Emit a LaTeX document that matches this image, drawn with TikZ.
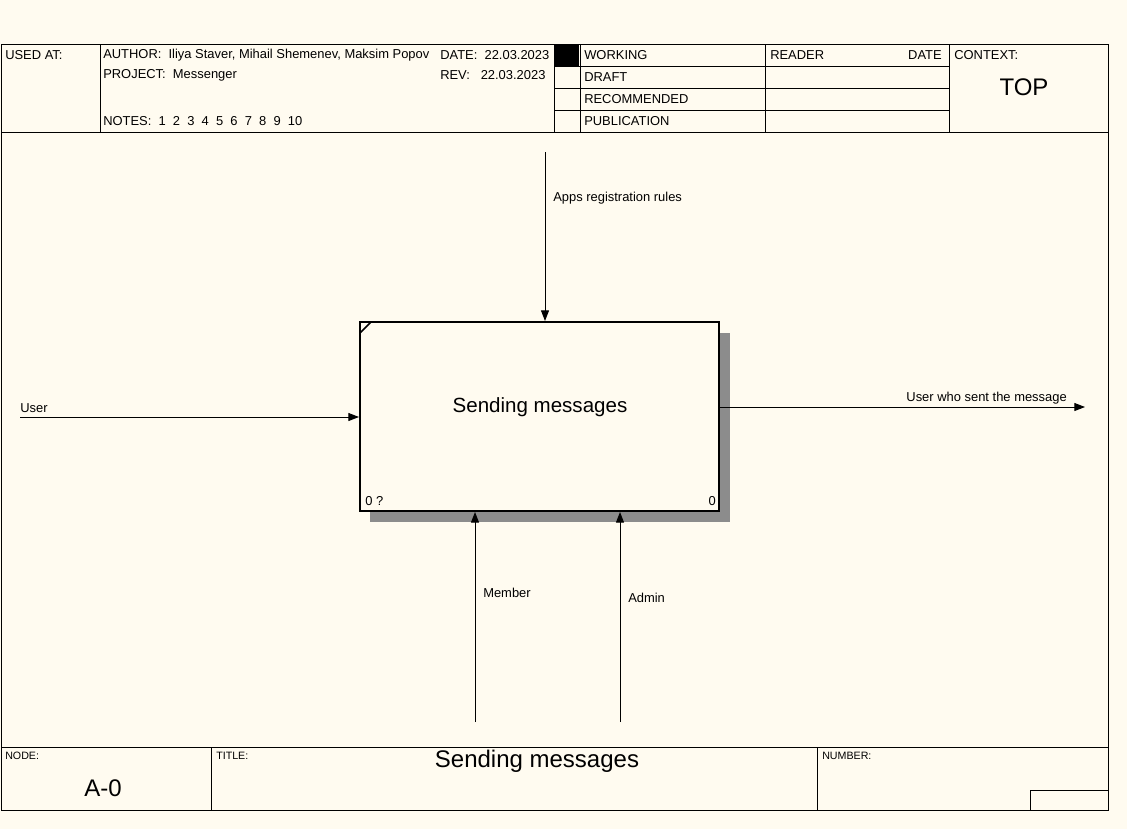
\documentclass[tikz,border=0pt]{standalone}
\usepackage{fontspec}
\setmainfont{Liberation Sans}
\usepackage{tikz}
\usetikzlibrary{arrows.meta,positioning}
\definecolor{paper}{RGB}{255,251,240}

\begin{document}
\begin{tikzpicture}[x=0.75pt, y=-0.75pt,
    frame/.style={draw, line width=0.75pt},
    lbl/.style={inner sep=0pt, anchor=west, font=\fontsize{9.7}{11}\selectfont},
    small/.style={inner sep=0pt, anchor=west, font=\fontsize{8}{9}\selectfont},
    big/.style={inner sep=0pt, font=\fontsize{15.4}{17}\selectfont},
    huge/.style={inner sep=0pt, font=\fontsize{18}{20}\selectfont},
    flow/.style={line width=0.75pt, -{Triangle[length=8pt, width=6pt]}}]
    \useasboundingbox (0,0) rectangle (1127,829);
    \fill[paper] (0,0) rectangle (1127,829);

    % frame, header and footer
    \draw[frame] (1,44) rectangle (1108,810);
    \draw[frame] (1,132) -- (1108,132);
    \draw[frame] (1,747) -- (1108,747);
    \draw[frame] (100,44) -- (100,132);
    \draw[frame] (554,44) -- (554,132);
    \draw[frame] (580,44) -- (580,132);
    \draw[frame] (765,44) -- (765,132);
    \draw[frame] (949,44) -- (949,132);
    \draw[frame] (554,66) -- (949,66);
    \draw[frame] (554,88) -- (949,88);
    \draw[frame] (554,110) -- (949,110);
    \fill (555,45) rectangle (579,66);
    \draw[frame] (211,747) -- (211,810);
    \draw[frame] (817,747) -- (817,810);
    \draw[frame] (1030,810) -- (1030,790) -- (1108,790);

    \node[lbl] (usedat) at (5,55) {USED AT:};
    \node[lbl] (author) at (103,55) {AUTHOR:\ \ Iliya Staver, Mihail Shemenev, Maksim Popov};
    \node[lbl] (date) at (440,55) {DATE:\ \ 22.03.2023};
    \node[lbl] (project) at (103,75) {PROJECT:\ \ Messenger};
    \node[lbl] (rev) at (440,75) {REV:\ \ \ 22.03.2023};
    \node[lbl] (notes) at (103,121) {NOTES:\ \ 1\ \ 2\ \ 3\ \ 4\ \ 5\ \ 6\ \ 7\ \ 8\ \ 9\ \ 10};
    \node[lbl] (working) at (584,55) {WORKING};
    \node[lbl] (draft) at (584,77) {DRAFT};
    \node[lbl] (recommended) at (584,99) {RECOMMENDED};
    \node[lbl] (publication) at (584,121) {PUBLICATION};
    \node[lbl] (reader) at (770,55) {READER};
    \node[lbl, anchor=east] (readerdate) at (942,55) {DATE};
    \node[lbl] (context) at (954,55) {CONTEXT:};
    \node[huge] (top) at (1024,87) {TOP};

    \node[small] (nodelbl) at (5,756) {NODE:};
    \node[small] (titlelbl) at (216,756) {TITLE:};
    \node[small] (numberlbl) at (822,756) {NUMBER:};
    \node[huge] (title) at (537,761) {Sending messages};
    \node[huge] (nodeno) at (103,788) {A-0};

    % activity box with shadow
    \fill[black!45] (719,333) rectangle (730,522);
    \fill[black!45] (370,511) rectangle (730,522);
    \node[draw, line width=1.5pt, fill=paper, minimum width=269.25pt, minimum height=141.75pt,
          inner sep=0pt] (box) at (539.5,416.5) {};
    \node[big] (boxtext) at (540,407) {Sending messages};
    \draw[line width=1.2pt] (360,333) -- (371,322);
    \node[lbl] (boxref) at (365,501) {0 ?};
    \node[lbl, anchor=east] (boxno) at (716,501) {0};

    % arrows
    \coordinate (ctrl) at (545,152);
    \coordinate (inp) at (20,417);
    \coordinate (outp) at (1085,407);
    \coordinate (mech1) at (475,722);
    \coordinate (mech2) at (620,722);

    \draw[flow] (ctrl) -- (ctrl |- box.north);
    \draw[flow] (inp) -- (inp -| box.west);
    \draw[flow] (box.east |- outp) -- (outp);
    \draw[flow] (mech1) -- (mech1 |- box.south);
    \draw[flow] (mech2) -- (mech2 |- box.south);

    \node[lbl] (ctrllbl) at (553,198) {Apps registration rules};
    \node[lbl] (inplbl) at (20,408) {User};
    \node[lbl, anchor=east] (outplbl) at (1067,398) {User who sent the message};
    \node[lbl] (mech1lbl) at (483,593) {Member};
    \node[lbl] (mech2lbl) at (628,598) {Admin};
\end{tikzpicture}
\end{document}
